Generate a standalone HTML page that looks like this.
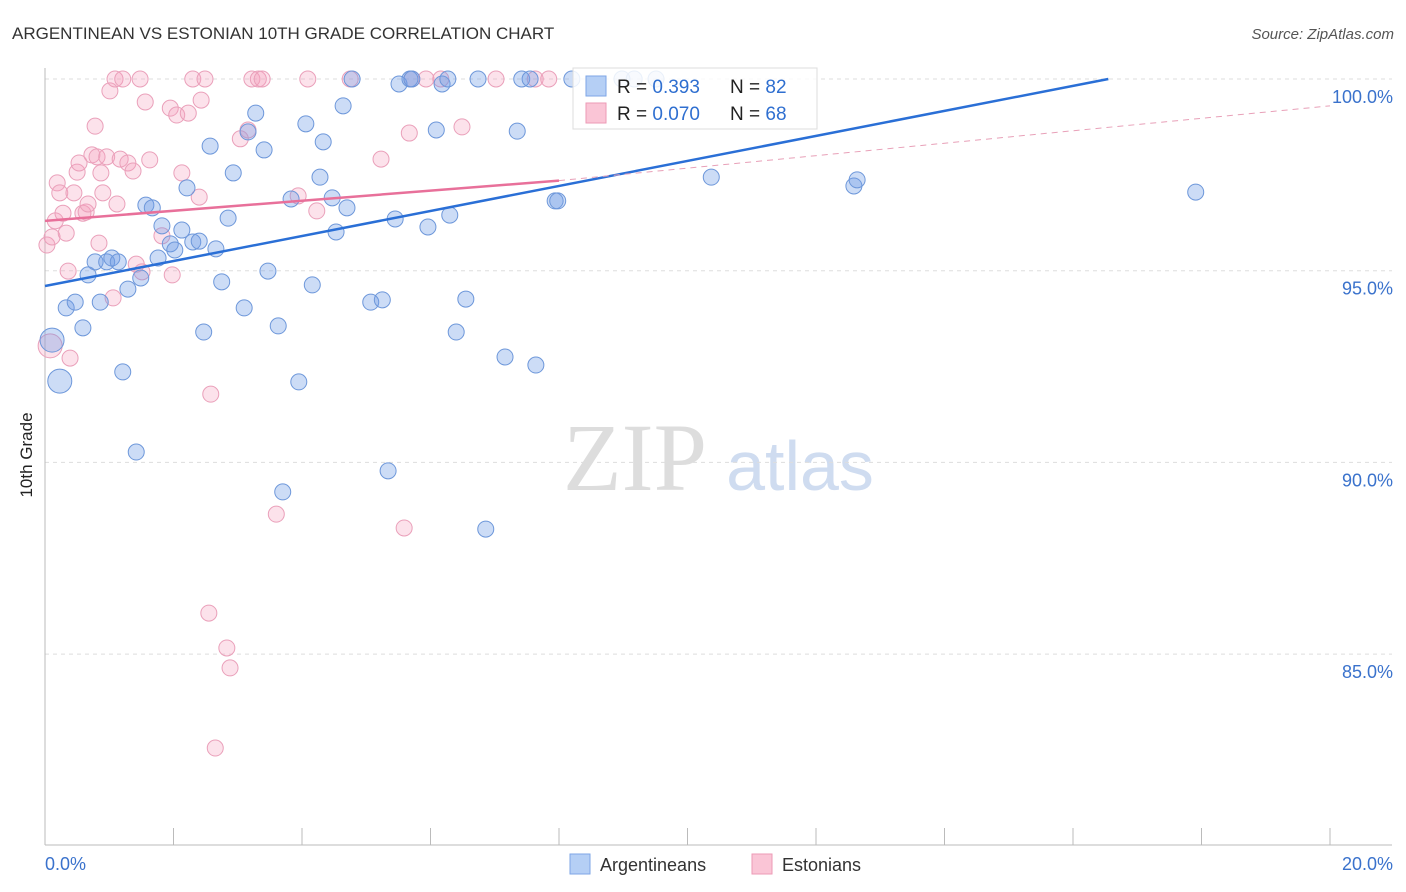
<!DOCTYPE html>
<html><head><meta charset="utf-8"><style>
body{margin:0;background:#fff;font-family:"Liberation Sans",sans-serif;}
svg{display:block}
</style></head><body>
<svg id="chart" width="1406" height="892">
<text x="12" y="39" font-size="17" fill="#333">ARGENTINEAN VS ESTONIAN 10TH GRADE CORRELATION CHART</text>
<text x="1394" y="39" font-size="15" fill="#555" font-style="italic" text-anchor="end">Source: ZipAtlas.com</text>
<text x="32" y="455" font-size="17" fill="#222" text-anchor="middle" transform="rotate(-90 32 455)">10th Grade</text>
<g><text x="635" y="490" font-size="96" font-family="Liberation Serif,serif" fill="#ddd" text-anchor="middle">ZIP</text><text x="800" y="490" font-size="70" fill="#cfdcf0" text-anchor="middle">atlas</text></g>
<g id="grid"></g><g id="pts"></g><g id="lines"></g>
<g>
<rect x="573" y="68" width="244" height="61" fill="#fff" fill-opacity="0.85" stroke="#ddd"/>
<rect x="586" y="76" width="20" height="20" fill="#b5cff5" stroke="#7ea6e6"/>
<rect x="586" y="103" width="20" height="20" fill="#fac5d6" stroke="#ec9ab6"/>
<text x="617" y="93" font-size="19" fill="#222">R = <tspan fill="#2f6fd0">0.393</tspan><tspan x="730">N = </tspan><tspan fill="#2f6fd0">82</tspan></text>
<text x="617" y="120" font-size="19" fill="#222">R = <tspan fill="#2f6fd0">0.070</tspan><tspan x="730">N = </tspan><tspan fill="#2f6fd0">68</tspan></text>
</g>
<g>
<rect x="570" y="854" width="20" height="20" fill="#b5cff5" stroke="#7ea6e6"/>
<text x="600" y="871" font-size="18" fill="#333">Argentineans</text>
<rect x="752" y="854" width="20" height="20" fill="#fac5d6" stroke="#ec9ab6"/>
<text x="782" y="871" font-size="18" fill="#333">Estonians</text>
</g>
</svg>
<script>
const yTicks=[100,95,90,85];
const xTickLabels=["0.0%","20.0%"];
const bluePx=[[52,340],[60,381],[66,308],[75,302],[83,328],[88,275],[95,262],[100,302],[107,262],[112,258],[118,262],[123,372],[128,289],[136,452],[141,278],[146,205],[152,208],[158,258],[162,226],[170,244],[175,250],[182,230],[187,188],[193,242],[199,241],[204,332],[210,146],[216,249],[222,282],[228,218],[233,173],[244,308],[248,132],[256,113],[264,150],[268,271],[278,326],[283,492],[291,199],[299,382],[306,124],[312,285],[320,177],[323,142],[332,198],[336,232],[343,106],[347,208],[352,79],[371,302],[382,300],[388,471],[395,219],[399,84],[410,79],[412,79],[428,227],[436,130],[442,84],[448,79],[450,215],[456,332],[466,299],[478,79],[486,529],[505,357],[517,131],[522,79],[530,79],[536,365],[555,201],[558,201],[572,79],[622,79],[634,79],[656,79],[711,177],[854,186],[857,180],[1196,192]];
const pinkPx=[[47,245],[50,346],[52,237],[55,221],[57,183],[60,193],[63,213],[66,233],[70,358],[68,271],[74,193],[77,172],[79,163],[83,213],[86,212],[88,204],[92,155],[95,126],[97,157],[99,243],[101,173],[103,193],[107,157],[110,91],[113,298],[115,79],[117,204],[120,159],[123,79],[128,163],[133,171],[136,264],[140,79],[142,272],[145,102],[150,160],[162,236],[170,108],[172,275],[177,115],[182,173],[188,113],[193,79],[199,197],[201,100],[205,79],[209,613],[211,394],[215,748],[227,648],[230,668],[240,139],[248,130],[252,79],[258,79],[262,79],[276,514],[298,196],[308,79],[317,211],[350,79],[381,159],[404,528],[409,133],[412,79],[426,79],[441,79],[462,127],[496,79],[535,79],[549,79]];
// data values (x in %, y in %)
const blueX=bluePx.map(p=>+((p[0]-45)*20/1285).toFixed(2));
const blueY=bluePx.map(p=>+(100-(p[1]-79)*5/191.7).toFixed(2));
const pinkX=pinkPx.map(p=>+((p[0]-45)*20/1285).toFixed(2));
const pinkY=pinkPx.map(p=>+(100-(p[1]-79)*5/191.7).toFixed(2));
const blueTrend=[[0,94.6],[16.55,100]];
const pinkTrend=[[0,96.3],[8,97.35]];
const pinkDash=[[8,97.35],[20,99.3]];
const X=v=>45+v/20*1285, Y=v=>79+(100-v)/5*191.7;
const NS="http://www.w3.org/2000/svg";
function mk(t,a,p){const e=document.createElementNS(NS,t);for(const k in a)e.setAttribute(k,a[k]);p.appendChild(e);return e;}
const g=document.getElementById('grid');
yTicks.forEach(t=>{
 const l=mk('line',{x1:45,x2:1392,y1:Y(t),y2:Y(t),stroke:'#ddd','stroke-dasharray':'4,4'},g);
 
 
 const tx=mk('text',{x:1393,y:Y(t)+24,'font-size':18,fill:'#3a72cc','text-anchor':'end'},g);
 tx.textContent=t.toFixed(1)+'%';
 
 
});
mk('line',{x1:45,x2:45,y1:68,y2:845,stroke:'#bbb'},g);
mk('line',{x1:45,x2:1392,y1:845,y2:845,stroke:'#bbb'},g);
for(let i=0;i<=10;i++){const tk=mk('line',{x1:X(i*2),x2:X(i*2),y1:828,y2:845,stroke:'#bbb'},g);
 
 }
[[0,'start',45],[20,'end',1393]].forEach((a,i)=>{const t=mk('text',{x:a[2],y:870,'font-size':18,fill:'#3a72cc','text-anchor':a[1]},g);t.textContent=xTickLabels[i];
 
 });
const P=document.getElementById('pts');
function dots(xs,ys,fill,stroke,name){xs.forEach((x,i)=>{
 const big=(name==='argentinean-point'&&(i<2))||(name==='estonian-point'&&i===1);
 const c=mk('circle',{cx:X(x),cy:Y(ys[i]),r:big?12:8,fill:fill,stroke:stroke,'stroke-width':1},P);
 
 });}
dots(pinkX,pinkY,'rgba(245,160,190,0.3)','#eaa0ba','estonian-point');
dots(blueX,blueY,'rgba(110,155,230,0.35)','#6d97da','argentinean-point');
const L=document.getElementById('lines');
function ln(s,c,w,d,n){const e=mk('line',{x1:X(s[0][0]),y1:Y(s[0][1]),x2:X(s[1][0]),y2:Y(s[1][1]),stroke:c,'stroke-width':w},L);if(d)e.setAttribute('stroke-dasharray',d);
 
 }
ln(blueTrend,'#2a6fd6',2.5,null,'argentinean-trend-line');
ln(pinkTrend,'#e8709a',2.5,null,'estonian-trend-line');
ln(pinkDash,'#e8a0b8',1,'6,5','estonian-trend-extension');
</script>
</body></html>
